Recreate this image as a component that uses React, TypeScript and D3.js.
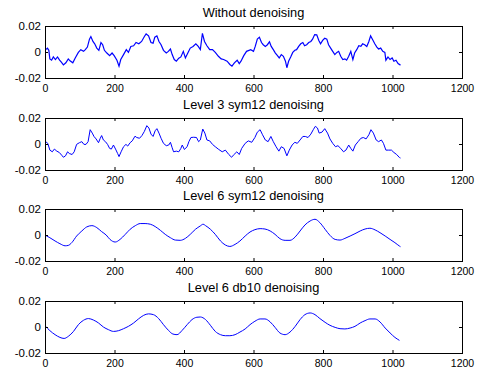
import React, { useEffect, useRef } from 'react';
import * as d3 from 'd3';

// panel titles and axis ticks
const titles = [
  'Without denoising',
  'Level 3 sym12 denoising',
  'Level 6 sym12 denoising',
  'Level 6 db10 denoising',
];
const xTicks = [0, 200, 400, 600, 800, 1000, 1200];
const yTicks = [-0.02, 0, 0.02];
const yTickLabels = ['-0.02', '0', '0.02'];

// [sample index, value]
const rawSignal: [number, number][] = [
  [2, 0.0018], [7, 0.003], [11, 0.0013], [14, -0.0053], [19, -0.0063], [24, -0.0038], [30, -0.0058], [36, -0.0038],
  [42, -0.0063], [47, -0.0078], [53, -0.0099], [60, -0.0083], [67, -0.0053], [72, -0.0068], [80, -0.0083], [87, -0.0046],
  [96, -0.0003], [103, 0.0018], [111, 0.0005], [116, 0.0018], [122, 0.0038], [128, 0.0099], [132, 0.0119], [138, 0.0081],
  [143, 0.0063], [149, 0.003], [155, 0.0013], [161, 0.0073], [166, 0.0056], [171, 0.0013], [178, -0.0008], [186, -0.0028],
  [193, -0.0008], [199, -0.0028], [207, -0.0063], [213, -0.0109], [218, -0.0058], [226, -0.002], [234, 0.0018], [240, -0.0003],
  [247, 0.0043], [255, 0.0048], [262, 0.0073], [270, 0.0063], [278, 0.0081], [286, 0.0119], [291, 0.0139], [298, 0.0124],
  [305, 0.0073], [311, 0.0068], [316, 0.0114], [322, 0.0124], [328, 0.0081], [334, 0.0056], [341, 0.0013], [349, -0.0008],
  [355, 0.0005], [361, 0.0023], [366, -0.002], [372, -0.0058], [378, -0.0071], [385, -0.0048], [391, -0.0038], [398, 0.0005],
  [404, -0.0046], [411, -0.0008], [418, 0.003], [426, 0.0043], [434, 0.0063], [441, 0.0043], [447, 0.0018], [453, 0.0144],
  [459, 0.0081], [466, 0.0048], [474, 0.0018], [482, 0.0018], [490, -0.0003], [499, -0.0033], [507, -0.0053], [514, -0.0058],
  [524, -0.0071], [532, -0.0096], [538, -0.0109], [545, -0.0083], [553, -0.0063], [559, -0.0089], [564, -0.0071], [572, -0.0028],
  [580, 0.0005], [592, 0.0018], [600, 0.0005], [605, 0.0043], [611, 0.0099], [617, 0.0114], [623, 0.0073], [628, 0.0056],
  [634, 0.0043], [640, 0.0056], [646, 0.0078], [651, 0.0043], [657, 0.0018], [663, -0.0008], [669, -0.0028], [674, -0.0046],
  [680, -0.002], [686, -0.0033], [692, -0.0071], [696, -0.0121], [701, -0.0071], [707, -0.0038], [713, -0.0003], [719, 0.0013],
  [724, 0.0018], [730, 0.0043], [736, 0.0063], [742, 0.0073], [747, 0.0048], [753, 0.0056], [759, 0.0073], [765, 0.0081],
  [770, 0.0099], [776, 0.0134], [782, 0.0132], [788, 0.0089], [793, 0.0063], [799, 0.0089], [805, 0.0106], [811, 0.0099],
  [816, 0.0056], [822, 0.003], [828, 0.0005], [834, -0.002], [840, -0.0003], [845, 0.0005], [851, -0.0033], [857, -0.0058],
  [863, -0.0053], [868, -0.0063], [874, -0.0033], [880, 0.0005], [886, -0.0058], [891, -0.0008], [897, 0.0018], [903, 0.0048],
  [909, 0.0043], [914, 0.0063], [920, 0.0056], [926, 0.0043], [932, 0.0081], [937, 0.0124], [943, 0.0094], [949, 0.0063],
  [955, 0.0038], [960, 0.0023], [966, 0.003], [972, 0.0005], [978, -0.0003], [981, -0.0063], [987, -0.0038], [993, -0.0058],
  [999, -0.0046], [1004, -0.0071], [1010, -0.0063], [1016, -0.0089], [1023, -0.0101],
];

const sym12Level3: [number, number][] = [
  [2, 0.0018], [8, 0.0005], [14, -0.0047], [21, -0.006], [27, -0.0039], [34, -0.0055], [41, -0.0065], [48, -0.0086],
  [53, -0.0102], [59, -0.0091], [65, -0.006], [70, -0.0073], [78, -0.0081], [84, -0.006], [91, -0.0003], [99, 0.001],
  [106, 0.0018], [112, -0.0003], [118, -0.0003], [124, 0.0018], [130, 0.011], [136, 0.0084], [141, 0.0058], [147, 0.0039],
  [154, 0.001], [159, 0.0044], [163, 0.0065], [168, 0.0031], [174, 0.0018], [180, -0.0003], [186, -0.0034], [191, -0.0039],
  [197, -0.0008], [203, -0.0039], [209, -0.0073], [213, -0.0097], [219, -0.006], [226, -0.0021], [233, -0.0003], [238, -0.0016],
  [245, 0.001], [251, 0.0024], [259, 0.006], [264, 0.005], [272, 0.0044], [279, 0.0065], [286, 0.0097], [293, 0.0141],
  [299, 0.0123], [305, 0.0076], [311, 0.0058], [317, 0.0102], [322, 0.0118], [328, 0.0084], [334, 0.0044], [341, 0.0005],
  [349, -0.0013], [356, -0.0008], [361, 0.0013], [366, -0.0029], [370, -0.006], [378, -0.0055], [385, -0.006], [391, -0.0034],
  [395, -0.0008], [401, -0.0042], [409, -0.0021], [414, 0.0018], [420, 0.005], [428, 0.0052], [436, 0.005], [442, 0.0018],
  [447, 0.0031], [454, 0.0115], [460, 0.0084], [466, 0.0031], [474, 0.0024], [482, -0.0003], [490, -0.0021], [500, -0.0042],
  [510, -0.006], [519, -0.0047], [529, -0.0081], [537, -0.0102], [542, -0.0086], [552, -0.006], [559, -0.0081], [566, -0.0034],
  [576, 0.0005], [585, 0.0024], [595, 0.0013], [604, 0.005], [611, 0.0091], [619, 0.011], [626, 0.0071], [634, 0.0031],
  [642, 0.0018], [650, 0.0058], [657, 0.0018], [665, -0.0021], [673, -0.0055], [680, -0.0021], [688, -0.0034], [696, -0.0091],
  [703, -0.0047], [711, -0.0008], [719, 0.0013], [726, 0.0005], [734, 0.0031], [742, 0.0058], [749, 0.0058], [757, 0.005],
  [765, 0.0076], [772, 0.011], [778, 0.0136], [784, 0.0123], [789, 0.0084], [797, 0.0091], [805, 0.0118], [813, 0.0084],
  [820, 0.0039], [828, 0.0005], [836, -0.0021], [843, -0.0013], [851, -0.0034], [859, -0.006], [866, -0.0047], [874, -0.0008],
  [880, -0.0034], [886, -0.0055], [893, -0.0008], [901, 0.0018], [909, 0.0044], [916, 0.005], [924, 0.0039], [932, 0.0071],
  [938, 0.011], [945, 0.0084], [953, 0.0031], [960, 0.0018], [968, 0.0031], [974, 0.0005], [981, -0.0047], [989, -0.0047],
  [997, -0.0047], [1004, -0.0065], [1012, -0.0081], [1020, -0.0104], [1023, -0.0108],
];

const sym12Level6: [number, number][] = [
  [2, -0.0003], [14, -0.0021], [29, -0.0046], [43, -0.0067], [58, -0.0083], [67, -0.008], [77, -0.0059], [91, -0.0008],
  [106, 0.0031], [120, 0.0062], [135, 0.0072], [149, 0.0057], [163, 0.0026], [176, 0], [187, -0.0034], [202, -0.0054],
  [216, -0.0034], [231, 0.0005], [245, 0.0044], [260, 0.0072], [274, 0.0088], [288, 0.0088], [303, 0.0083], [317, 0.0065],
  [332, 0.0036], [346, 0.0005], [361, -0.0021], [375, -0.0039], [389, -0.0041], [404, -0.0026], [418, 0.0005], [433, 0.0044],
  [447, 0.007], [455, 0.0083], [462, 0.0072], [476, 0.0044], [490, 0.0005], [505, -0.0046], [519, -0.0077], [532, -0.0088],
  [547, -0.0072], [561, -0.0046], [576, -0.0008], [590, 0.0023], [604, 0.0041], [619, 0.0049], [633, 0.0046], [648, 0.0031],
  [662, 0.0005], [676, -0.0028], [691, -0.0041], [705, -0.0041], [720, -0.0015], [734, 0.0031], [748, 0.0077], [763, 0.0108],
  [777, 0.0121], [791, 0.0095], [806, 0.0044], [820, -0.0003], [835, -0.0034], [849, -0.0039], [863, -0.0026], [878, -0.0008],
  [892, 0.001], [907, 0.0031], [921, 0.0046], [935, 0.0052], [950, 0.0039], [964, 0.0018], [979, -0.0008], [993, -0.0034],
  [1007, -0.0059], [1020, -0.0085], [1023, -0.009],
];

const db10Level6: [number, number][] = [
  [2, 0.0005], [14, -0.0028], [29, -0.0059], [43, -0.008], [55, -0.0088], [67, -0.0072], [82, -0.0034], [96, 0.0018],
  [111, 0.0052], [125, 0.0065], [139, 0.0054], [154, 0.0031], [168, 0], [183, -0.0021], [197, -0.0034], [212, -0.0028],
  [226, -0.0013], [240, 0.0005], [255, 0.0031], [269, 0.0062], [284, 0.009], [298, 0.0101], [312, 0.0095], [327, 0.0065],
  [341, 0.0018], [356, -0.0028], [368, -0.0054], [380, -0.0059], [394, -0.0028], [409, 0.0018], [423, 0.0057], [437, 0.0075],
  [447, 0.0077], [462, 0.0057], [476, 0.0013], [490, -0.0034], [505, -0.0059], [519, -0.0067], [532, -0.0067], [547, -0.0059],
  [561, -0.0039], [576, -0.0015], [590, 0.0018], [604, 0.0044], [619, 0.0062], [633, 0.0062], [648, 0.0039], [662, -0.0003],
  [676, -0.0046], [691, -0.0059], [705, -0.0039], [720, 0.0005], [734, 0.0057], [748, 0.0095], [763, 0.0108], [777, 0.0095],
  [791, 0.0065], [806, 0.0036], [820, 0.0013], [835, -0.0003], [849, -0.0013], [863, -0.0015], [878, -0.0008], [892, 0.0005],
  [907, 0.0031], [921, 0.0049], [935, 0.0062], [950, 0.0062], [964, 0.0039], [979, -0.0008], [993, -0.0046], [1007, -0.008],
  [1020, -0.0103],
];

const App = () => {
  const svgRef = useRef<SVGSVGElement>(null);

  useEffect(() => {
    const svg = d3.select(svgRef.current);
    svg.selectAll('*').remove();

    const width = 478;
    const height = 372;
    const left = 45;
    const right = 462;
    const tops = [26, 118, 209, 301];
    const panelH = 52;
    const font = 'Arial, "Liberation Sans", Helvetica, sans-serif';

    svg.attr('width', width).attr('height', height);
    svg.append('rect').attr('width', width).attr('height', height).attr('fill', '#fff');

    const x = d3.scaleLinear().domain([0, 1200]).range([left, right]);
    const series = [rawSignal, sym12Level3, sym12Level6, db10Level6];

    series.forEach((data, i) => {
      const top = tops[i];
      const y = d3.scaleLinear().domain([-0.02, 0.02]).range([top + panelH, top]);
      const g = svg.append('g');

      // signal
      const line = d3.line<[number, number]>()
        .x(d => x(d[0]))
        .y(d => y(d[1]))
        .curve(i >= 2 ? d3.curveMonotoneX : d3.curveLinear);
      g.append('path')
        .datum(data)
        .attr('d', line)
        .attr('fill', 'none')
        .attr('stroke', '#0000ff')
        .attr('stroke-width', i === 0 ? 1.2 : 1);

      // axes, ticks pointing inward like matlab
      const bottom = g.append('g')
        .attr('transform', `translate(0,${top + panelH})`)
        .call(d3.axisBottom(x).tickValues(xTicks).tickSize(-3).tickPadding(7).tickFormat(d3.format('d')));
      const topAx = g.append('g')
        .attr('transform', `translate(0,${top})`)
        .call(d3.axisTop(x).tickValues(xTicks).tickSize(-3).tickFormat(() => ''));
      const leftAx = g.append('g')
        .attr('transform', `translate(${left},0)`)
        .call(d3.axisLeft(y).tickValues(yTicks).tickSize(-3).tickPadding(4)
          .tickFormat((d, k) => yTickLabels[k]));
      const rightAx = g.append('g')
        .attr('transform', `translate(${right},0)`)
        .call(d3.axisRight(y).tickValues(yTicks).tickSize(-3).tickFormat(() => ''));

      [bottom, topAx, leftAx, rightAx].forEach(a => {
        a.select('.domain').remove();
        a.selectAll('line').attr('stroke', '#000');
        a.selectAll('text')
          .attr('fill', '#000')
          .style('font-family', font)
          .style('font-size', '11px');
      });
      bottom.selectAll('text').style('font-size', '10.5px');
      leftAx.selectAll('text').style('font-size', '11.5px');

      // box
      g.append('rect')
        .attr('x', left + 0.5)
        .attr('y', top + 0.5)
        .attr('width', right - left)
        .attr('height', panelH)
        .attr('fill', 'none')
        .attr('stroke', '#000')
        .attr('stroke-width', 1);

      g.append('text')
        .attr('x', (left + right) / 2)
        .attr('y', top - 9)
        .attr('text-anchor', 'middle')
        .style('font-family', font)
        .style('font-size', '12.8px')
        .text(titles[i]);
    });
  }, []);

  return (
    <div>
      <svg ref={svgRef} style={{ position: 'absolute', left: 0, top: 0 }}></svg>
    </div>
  );
};

export default App;
